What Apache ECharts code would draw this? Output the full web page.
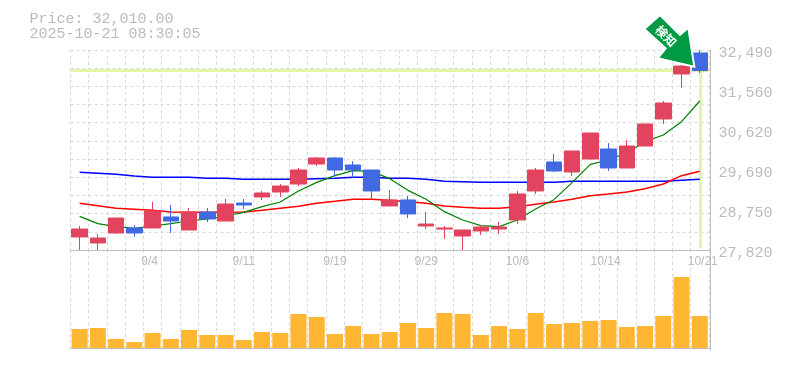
<!DOCTYPE html>
<html>
<head>
<meta charset="utf-8">
<style>html,body{margin:0;padding:0;background:#fff}#c{width:785px;height:370px}</style>
<script src="https://cdn.jsdelivr.net/npm/echarts@6/dist/echarts.min.js"></script>
</head>
<body>
<div id="c"></div>
<script>
const dates = ['8/29','9/1','9/2','9/3','9/4','9/5','9/8','9/9','9/10','9/11','9/12','9/16','9/17','9/18','9/19','9/22','9/24','9/25','9/26','9/29','9/30','10/1','10/2','10/3','10/6','10/7','10/8','10/9','10/10','10/14','10/15','10/16','10/17','10/20','10/21'];
const shownDates = ['9/4','9/11','9/19','9/29','10/6','10/14','10/21'];
const priceTicks = [27820,28750,29690,30620,31560,32490];
const lastPrice = 32010;
const opens  = [28124,27984,28217,28334,28334,28591,28287,28707,28497,28917,29058,29174,29361,29828,29968,29805,29688,28848,28988,28381,28310,28147,28264,28310,28521,29198,29875,29641,29945,30178,29735,30248,30879,31930,32420];
const closes = [28310,28100,28567,28217,28731,28497,28707,28544,28894,28871,29151,29314,29688,29968,29688,29688,29198,28988,28661,28427,28334,28287,28357,28357,29128,29688,29665,30132,30552,29735,30248,30762,31252,32116,32010];
const lows   = [27820,27820,28194,28124,28334,28217,28287,28474,28497,28777,28988,29058,29314,29781,29548,29501,29011,28848,28567,28310,28077,27820,28170,28194,28427,29128,29641,29548,29922,29665,29735,30248,30762,31603,31953];
const highs  = [28380,28194,28567,28404,28941,28871,28801,28801,29011,29011,29198,29361,29735,29992,29992,29898,29688,29221,29081,28707,28381,28287,28404,28474,29198,29735,30062,30132,30552,30318,30388,30774,31299,32210,32490];
const maShort = [28606,28435,28365,28326,28380,28435,28497,28544,28614,28700,28832,28941,29198,29400,29556,29672,29657,29486,29213,29003,28715,28521,28388,28365,28521,28777,28995,29392,29820,29922,30093,30350,30505,30817,31299];
const maMid   = [28910,28855,28793,28770,28746,28707,28700,28700,28700,28707,28746,28793,28840,28910,28956,29003,29003,28980,28949,28910,28848,28816,28793,28793,28832,28886,28941,29003,29089,29128,29174,29252,29361,29556,29657];
const maLong  = [29634,29610,29587,29548,29517,29517,29517,29493,29493,29470,29470,29470,29470,29486,29493,29517,29517,29493,29493,29470,29423,29416,29400,29400,29400,29400,29400,29423,29423,29423,29423,29423,29423,29447,29470];
const volumes = [19,20,9,6,15,9,18,13,13,8,16,15,34,31,14,22,14,16,25,20,35,34,13,22,19,35,24,25,27,28,21,22,32,71,32];
const headerLines = ['Price: 32,010.00','2025-10-21 08:30:05'];
const badge = '検知';

const GRID = '#d8d8d8', AXIS = '#bdbdbd', TEXT = '#bbbbbb';
const mono = '"Liberation Mono", monospace';
const dashed = {show:true, interval:0, lineStyle:{color:GRID, type:[3,3], width:1}};
const candleData = opens.map((o,i)=>[o,closes[i],lows[i],highs[i]]);
const fmt = v => String(v).replace(/\B(?=(\d{3})+$)/,',');
const dateLabel = v => v==='9/4'||v==='10/14' ? '{l|'+v+'}' : v==='10/21' ? '{r|'+v+'}' : v;
const labelFont = {color:TEXT,fontFamily:'"Liberation Sans",sans-serif',fontSize:12};
const maLine = (name,data,color,width)=>({name,type:'line',data,xAxisIndex:0,yAxisIndex:0,showSymbol:false,symbol:'none',z:3,
  lineStyle:{color,width},silent:true});

const chart = echarts.init(document.getElementById('c'));
chart.setOption({
  animation:false,
  backgroundColor:'#fff',
  grid:[{left:70.5,top:50,width:638.4,height:200},{left:70.5,top:250,width:638.4,height:100}],
  xAxis:[
    {type:'category',gridIndex:0,data:dates,boundaryGap:true,
     axisLine:{show:true,lineStyle:{color:AXIS,width:1}},axisTick:{show:false},
     splitLine:dashed,
     axisLabel:Object.assign({interval:(i,v)=>shownDates.includes(v),margin:6,formatter:dateLabel,
       rich:{l:Object.assign({padding:[0,6,0,0]},labelFont),r:Object.assign({padding:[0,0,0,6]},labelFont)}},labelFont)},
    {type:'category',gridIndex:1,data:dates,boundaryGap:true,
     axisLine:{show:true,lineStyle:{color:AXIS,width:1}},axisTick:{show:false},axisLabel:{show:false},
     splitLine:dashed}
  ],
  yAxis:[
    {type:'value',gridIndex:0,position:'right',offset:1.5,min:priceTicks[0],max:priceTicks[priceTicks.length-1],
     axisLine:{show:true,onZero:false,lineStyle:{color:AXIS,width:1}},axisTick:{show:false},splitLine:{show:false},
     axisLabel:{customValues:priceTicks,formatter:fmt,color:TEXT,fontFamily:mono,fontSize:15,margin:8,verticalAlign:'top',lineHeight:6}},
    {type:'value',gridIndex:0,position:'left',min:0,max:11,interval:1,
     axisLine:{show:false},axisTick:{show:false},axisLabel:{show:false},splitLine:dashed},
    {type:'value',gridIndex:1,position:'right',offset:1.5,min:-2,max:98,
     axisLine:{show:true,onZero:false,lineStyle:{color:AXIS,width:1}},axisTick:{show:false},axisLabel:{show:false},splitLine:{show:false}}
  ],
  series:[
    {name:'price',type:'line',data:[],xAxisIndex:0,yAxisIndex:0,z:1,silent:true,
     markLine:{silent:true,z:1,symbol:'none',label:{show:false},animation:false,
       lineStyle:{color:'#e3f5a8',width:3,type:'solid'},
       data:[{yAxis:lastPrice},
             [{coord:[dates[dates.length-1],lastPrice]},{coord:[dates[dates.length-1],priceTicks[0]+40]}]]}},
    maLine('long',maLong,'#0000ff',1.5),
    maLine('mid',maMid,'#ff0000',1.5),
    maLine('short',maShort,'#008000',1.2),
    {name:'candle',type:'candlestick',data:candleData,xAxisIndex:0,yAxisIndex:0,barWidth:16,z:4,silent:true,
     itemStyle:{color:'#e2445f',color0:'#4169e1',borderColor:'#e2445f',borderColor0:'#4169e1',borderWidth:1}},
    {name:'volume',type:'bar',data:volumes,xAxisIndex:1,yAxisIndex:2,barWidth:16,z:3,silent:true,
     itemStyle:{color:'#ffb733'}}
  ],
  graphic:[
    {type:'text',left:29.5,top:12,z:10,style:{text:headerLines[0],fill:TEXT,font:'15px '+mono}},
    {type:'text',left:29.5,top:27,z:10,style:{text:headerLines[1],fill:TEXT,font:'15px '+mono}},
    {type:'polygon',z:20,shape:{points:[[644.3,29],[660,15],[680,35],[688.3,27.7],[694.3,66.7],[657.7,58.3],[665.7,48.3]]},
     style:{fill:'#009a44',stroke:'#fff',lineWidth:2}},
    {type:'text',z:21,x:666,y:36,rotation:-Math.PI/4,
     style:{text:badge,fill:'#fff',font:'bold 12px "Noto Sans CJK JP"',align:'center',verticalAlign:'middle'}}
  ]
});
</script>
</body>
</html>
